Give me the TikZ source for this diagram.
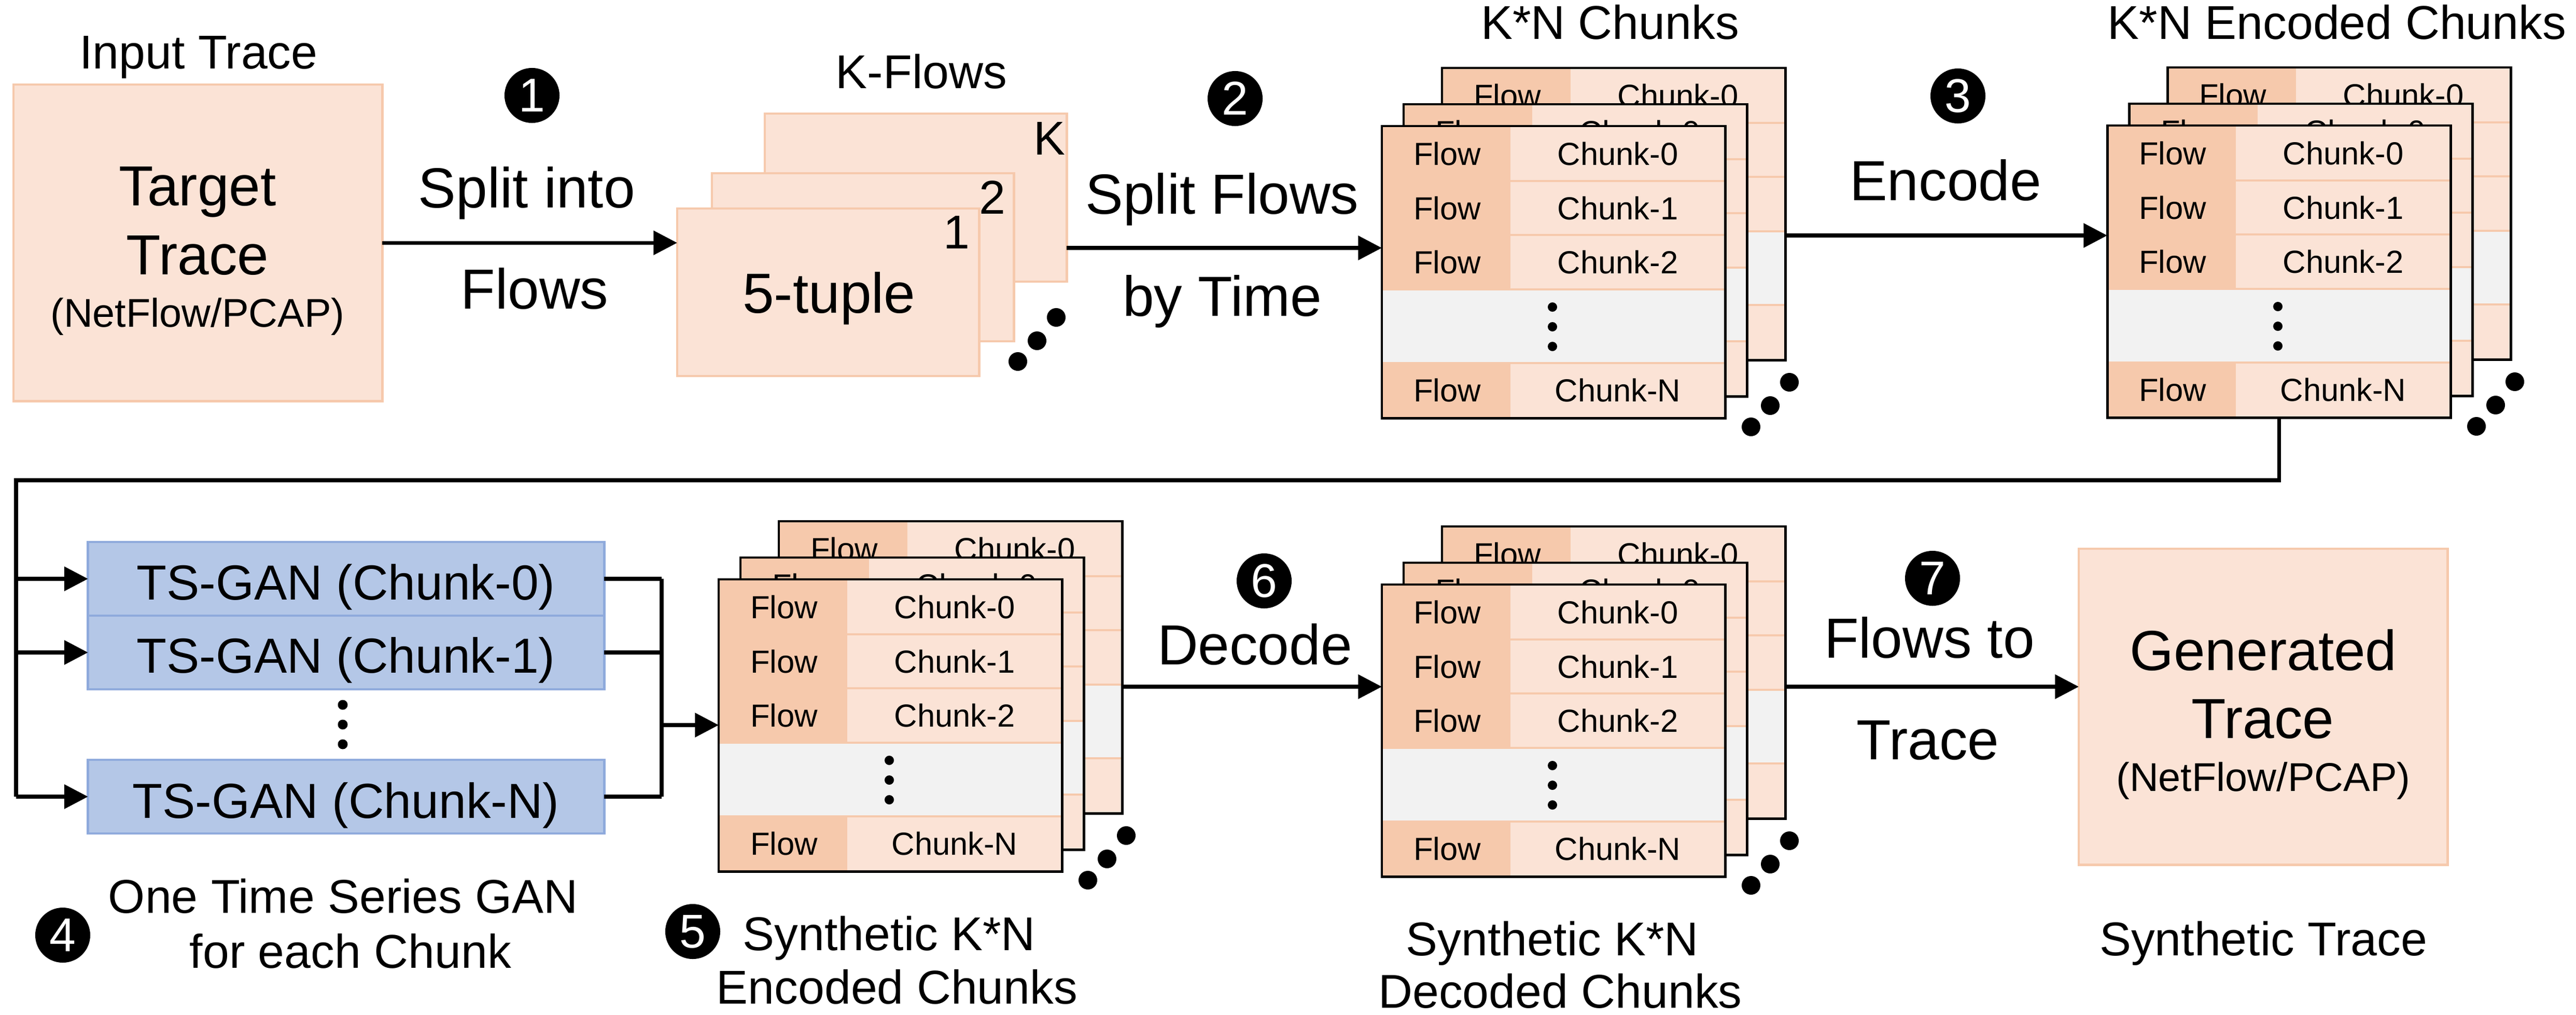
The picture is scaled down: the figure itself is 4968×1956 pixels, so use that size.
\documentclass[tikz,border=0pt]{standalone}
\usepackage{fontspec}
\setmainfont{Liberation Sans}
\usetikzlibrary{arrows.meta}

\definecolor{peachlight}{HTML}{FBE3D6}
\definecolor{peachdark}{HTML}{F6C9AC}
\definecolor{bandgray}{HTML}{F2F2F2}
\definecolor{ganblue}{HTML}{B4C7E7}
\definecolor{ganborder}{HTML}{8FAADC}

% one card: left, top, name
\newcommand{\chunkcard}[3]{%
  \begin{scope}[shift={(#1,#2)}]
    \fill[peachlight] (0,0) rectangle (662,563);
    \fill[peachdark] (0,0) rectangle (248,315);
    \fill[peachdark] (0,457) rectangle (248,563);
    \fill[bandgray] (0,315) rectangle (662,457);
    \foreach \ruley in {106,210}
      \draw[chunk rule] (248,\ruley) -- (662,\ruley);
    \foreach \ruley in {315,457}
      \draw[chunk rule] (0,\ruley) -- (662,\ruley);
    \foreach \rowy/\rowtext in {75/Chunk-0,180/Chunk-1,284/Chunk-2,531/Chunk-N}{
      \node[cell text] (#3flow\rowy) at (126,\rowy) {Flow};
      \node[cell text] (#3chunk\rowy) at (455,\rowy) {\rowtext};
    }
    \foreach \doty in {349,387,425}
      \fill (329,\doty) circle (0.09cm);
    \node[chunk frame] (#3) at (0,0) {};
  \end{scope}}

% three cards and the slanted dots: left, top, name
\newcommand{\chunkstack}[3]{%
  \chunkcard{#1+116}{#2-112}{#3back}
  \chunkcard{#1+42}{#2-42}{#3mid}
  \chunkcard{#1}{#2}{#3}
  \foreach \dotx/\doty in {786/494,749/539,712/580}
    \fill (#1+\dotx,#2+\doty) circle (0.18cm);}

\begin{document}
\begin{tikzpicture}[x=0.01cm,y=-0.01cm]

        % Styles
        \tikzstyle{flow line}=[line width=2.1pt]
        \tikzstyle{flow arrow}=[line width=2.1pt,-{Triangle[length=13pt,width=13pt]}]
        \tikzstyle{chunk rule}=[peachdark,line width=1.1pt]
        \tikzstyle{chunk frame}=[draw=black,line width=1.4pt,anchor=north west,inner sep=0pt,outer sep=0pt,minimum width=6.62cm,minimum height=5.63cm]
        \tikzstyle{cell text}=[anchor=base,inner sep=0pt,font=\fontsize{17.5}{21}\selectfont]
        \tikzstyle{trace box}=[fill=peachlight,draw=peachdark,line width=1.3pt,anchor=north west,inner sep=0pt,outer sep=0pt]
        \tikzstyle{gan box}=[fill=ganblue,draw=ganborder,line width=1.3pt,inner sep=0pt,outer sep=0pt,minimum width=9.95cm,minimum height=1.42cm]
        \tikzstyle{badge}=[circle,fill=black,text=white,inner sep=0pt,minimum size=1.06cm,font=\fontsize{26}{30}\selectfont]
        \tikzstyle{big text}=[anchor=base,inner sep=0pt,font=\fontsize{31}{36}\selectfont]
        \tikzstyle{mid text}=[anchor=base,inner sep=0pt,font=\fontsize{26}{30}\selectfont]
        \tikzstyle{gan text}=[anchor=base,inner sep=0pt,font=\fontsize{27}{32}\selectfont]
        \tikzstyle{small text}=[anchor=base,inner sep=0pt,font=\fontsize{22}{26}\selectfont]

        \useasboundingbox (0,0) rectangle (4968,1956);

        %top row
        \node[mid text] (inputlabel) at (383,132) {Input Trace};
        \node[trace box,minimum width=7.11cm,minimum height=6.10cm] (target) at (26,163) {};
        \node[big text] (targetone) at (381,396) {Target};
        \node[big text] (targettwo) at (381,529) {Trace};
        \node[small text] (targetthree) at (381,630) {(NetFlow/PCAP)};

        \node[mid text] (flowlabel) at (1777,170) {K-Flows};
        \node[trace box,minimum width=5.82cm,minimum height=3.24cm] (flowk) at (1475,219) {};
        \node[trace box,minimum width=5.82cm,minimum height=3.24cm] (flowb) at (1373,334) {};
        \node[trace box,minimum width=5.82cm,minimum height=3.23cm] (flowa) at (1306,402) {};
        \node[mid text] (flowktext) at (2024,298) {K};
        \node[mid text] (flowbtext) at (1914,412) {2};
        \node[mid text] (flowatext) at (1845,479) {1};
        \node[big text] (tuple) at (1599,603) {5-tuple};
        \foreach \dotx/\doty in {2037/612,2000/657,1963/697}
            \fill (\dotx,\doty) circle (0.18cm);

        \node[mid text] (knlabel) at (3105,75) {K*N Chunks};
        \chunkstack{2665}{243}{kn}
        \node[mid text] (enclabel) at (4507,75) {K*N Encoded Chunks};
        \chunkstack{4064}{242}{enc}

        %bottom row
        \node[gan box] (gana) at (667.5,1116) {};
        \node[gan box] (ganb) at (667.5,1258) {};
        \node[gan box] (gann) at (667.5,1536) {};
        \node[gan text] (ganatext) at (667,1156) {TS-GAN (Chunk-0)};
        \node[gan text] (ganbtext) at (667,1297) {TS-GAN (Chunk-1)};
        \node[gan text] (ganntext) at (667,1577) {TS-GAN (Chunk-N)};
        \foreach \doty in {1359,1397,1435}
            \fill (661,\doty) circle (0.095cm);
        \node[mid text] (ganone) at (662,1760) {One Time Series GAN};
        \node[mid text] (gantwo) at (676,1866) {for each Chunk};

        \chunkstack{1386}{1117}{syn}
        \node[mid text] (synone) at (1715,1832) {Synthetic K*N};
        \node[mid text] (syntwo) at (1730,1935) {Encoded Chunks};
        \chunkstack{2665}{1127}{dec}
        \node[mid text] (decone) at (2994,1842) {Synthetic K*N};
        \node[mid text] (dectwo) at (3009,1943) {Decoded Chunks};

        \node[trace box,minimum width=7.11cm,minimum height=6.09cm] (generated) at (4009,1058) {};
        \node[big text] (genone) at (4365,1292) {Generated};
        \node[big text] (gentwo) at (4364,1423) {Trace};
        \node[small text] (genthree) at (4365,1525) {(NetFlow/PCAP)};
        \node[mid text] (genlabel) at (4365,1842) {Synthetic Trace};

        %steps
        \node[badge] (stepa) at (1026,184) {1};
        \node[big text] (splitone) at (1016,400) {Split into};
        \node[big text] (splittwo) at (1031,595) {Flows};
        \node[badge] (stepb) at (2382,190) {2};
        \node[big text] (timeone) at (2357,412) {Split Flows};
        \node[big text] (timetwo) at (2357,609) {by Time};
        \node[badge] (stepc) at (3776,185) {3};
        \node[big text] (encode) at (3752,386) {Encode};
        \node[badge] (stepd) at (121,1803) {4};
        \node[badge] (stepe) at (1336,1796) {5};
        \node[badge] (stepf) at (2438,1120) {6};
        \node[big text] (decode) at (2420,1281) {Decode};
        \node[badge] (stepg) at (3727,1115) {7};
        \node[big text] (traceone) at (3721,1268) {Flows to};
        \node[big text] (tracetwo) at (3718,1464) {Trace};

        %connectors
        \coordinate (rowtwo) at (0,478);
        \coordinate (rowthree) at (0,454);
        \coordinate (rowbottom) at (0,1324);
        \coordinate (bustop) at (31,926);
        \coordinate (merge) at (1276,1398);
        \draw[flow arrow] (target.east) -- (flowa.west |- target.east);
        \draw[flow arrow] (flowk.east |- rowtwo) -- (kn.west |- rowtwo);
        \draw[flow arrow] (knback.east |- rowthree) -- (enc.west |- rowthree);
        \draw[flow line] (enc.south) |- (bustop) -- (bustop |- gann.west);
        \foreach \ganbox in {gana,ganb,gann}
            \draw[flow arrow] (bustop |- \ganbox.west) -- (\ganbox.west);
        \foreach \ganbox in {gana,ganb,gann}
            \draw[flow line] (\ganbox.east) -- (merge |- \ganbox.east);
        \draw[flow line] (merge |- gana.east) -- (merge |- gann.east);
        \draw[flow arrow] (merge) -- (syn.west |- merge);
        \draw[flow arrow] (synback.east |- rowbottom) -- (dec.west |- rowbottom);
        \draw[flow arrow] (decback.east |- rowbottom) -- (generated.west |- rowbottom);
\end{tikzpicture}
\end{document}
